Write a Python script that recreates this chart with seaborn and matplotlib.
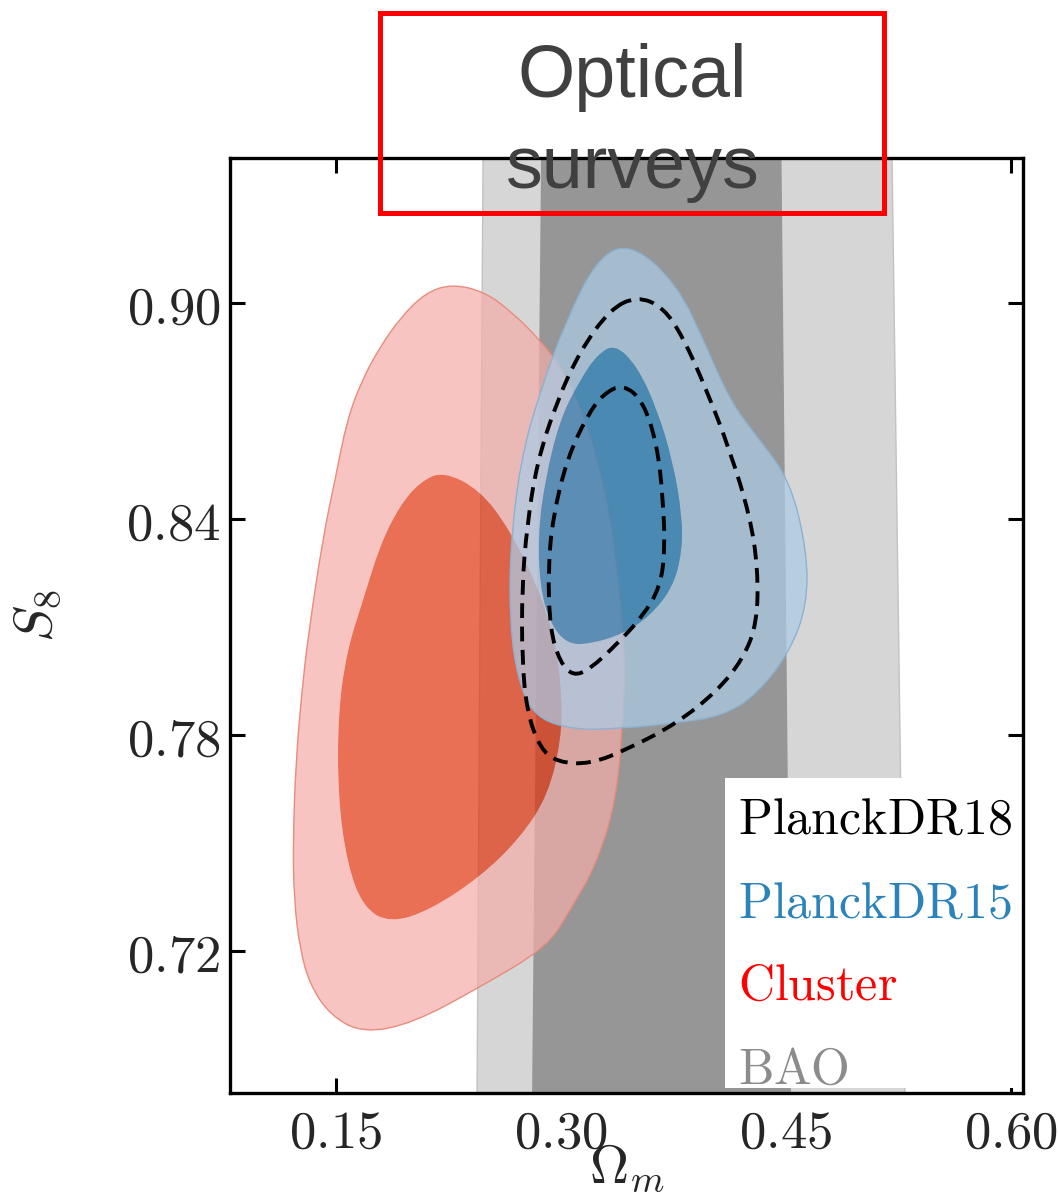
import numpy as np
import pandas as pd
import matplotlib
matplotlib.use("Agg")
import matplotlib.pyplot as plt
import seaborn as sns
from matplotlib.path import Path
from matplotlib.patches import PathPatch, Rectangle

# ---------------- data ----------------
# BAO bands (Omega_m edges at the top and bottom of the plotted S8 range)
bao_y = [0.9403, 0.6806]
bao2_left = [0.2480, 0.2440]
bao2_right = [0.5207, 0.5293]
bao1_left = [0.2867, 0.2807]
bao1_right = [0.4470, 0.4533]

# Cluster contours
cl2_x = [0.2273, 0.2493, 0.2680, 0.2860, 0.3013, 0.3140, 0.3240, 0.3327, 0.3373, 0.3407,
         0.3427, 0.3413, 0.3373, 0.3240, 0.3060, 0.2907, 0.2460, 0.2013, 0.1680, 0.1460,
         0.1327, 0.1260, 0.1220, 0.1213, 0.1233, 0.1273, 0.1313, 0.1413, 0.1493, 0.1573,
         0.1673, 0.1793, 0.1927, 0.2093]
cl2_y = [0.9053, 0.9031, 0.8972, 0.8897, 0.8814, 0.8703, 0.8572, 0.8411, 0.8258, 0.8119,
         0.7981, 0.7861, 0.7628, 0.7444, 0.7314, 0.7211, 0.7100, 0.7000, 0.6972, 0.7022,
         0.7106, 0.7203, 0.7342, 0.7508, 0.7731, 0.7925, 0.8072, 0.8350, 0.8508, 0.8675,
         0.8786, 0.8878, 0.8958, 0.9028]
cl1_x = [0.2213, 0.2460, 0.2660, 0.2840, 0.2960, 0.3007, 0.3000, 0.2913, 0.2727, 0.2460,
         0.2127, 0.1860, 0.1680, 0.1573, 0.1513, 0.1513, 0.1573, 0.1680, 0.1793, 0.1927,
         0.2060]
cl1_y = [0.8533, 0.8481, 0.8369, 0.8217, 0.8064, 0.7911, 0.7786, 0.7633, 0.7514, 0.7406,
         0.7314, 0.7278, 0.7322, 0.7444, 0.7628, 0.7861, 0.8036, 0.8175, 0.8328, 0.8439,
         0.8503]

# PlanckDR15 contours
p15_2_x = [0.3460, 0.3773, 0.3973, 0.4127, 0.4307, 0.4527, 0.4640, 0.4640, 0.4527, 0.4307,
           0.4080, 0.3747, 0.3413, 0.3080, 0.2813, 0.2707, 0.2660, 0.2660, 0.2727, 0.2860,
           0.3040, 0.3240]
p15_2_y = [0.9168, 0.9054, 0.8875, 0.8728, 0.8628, 0.8508, 0.8311, 0.8161, 0.8033, 0.7914,
           0.7853, 0.7833, 0.7819, 0.7814, 0.7853, 0.7964, 0.8111, 0.8311, 0.8558, 0.8756,
           0.8956, 0.9123]
p15_1_x = [0.3360, 0.3507, 0.3640, 0.3747, 0.3807, 0.3807, 0.3747, 0.3593, 0.3413, 0.3193,
           0.3040, 0.2927, 0.2860, 0.2847, 0.2893, 0.2993, 0.3127, 0.3240]
p15_1_y = [0.8886, 0.8825, 0.8706, 0.8558, 0.8408, 0.8311, 0.8211, 0.8131, 0.8081, 0.8053,
           0.8053, 0.8111, 0.8211, 0.8358, 0.8508, 0.8678, 0.8786, 0.8856]

# PlanckDR18 contours (dashed)
p18_2_x = [0.3507, 0.3680, 0.3813, 0.3973, 0.4127, 0.4260, 0.4313, 0.4307, 0.4213, 0.4040,
           0.3773, 0.3460, 0.3193, 0.2973, 0.2860, 0.2773, 0.2740, 0.2740, 0.2773, 0.2840,
           0.2973, 0.3127, 0.3327]
p18_2_y = [0.9019, 0.8989, 0.8906, 0.8756, 0.8589, 0.8408, 0.8261, 0.8111, 0.8011, 0.7922,
           0.7833, 0.7764, 0.7719, 0.7725, 0.7764, 0.7864, 0.8011, 0.8211, 0.8381, 0.8558,
           0.8728, 0.8867, 0.8983]
p18_1_x = [0.3413, 0.3547, 0.3640, 0.3680, 0.3693, 0.3660, 0.3547, 0.3373, 0.3193, 0.3080,
           0.2993, 0.2927, 0.2913, 0.2947, 0.3040, 0.3173, 0.3280]
p18_1_y = [0.8775, 0.8728, 0.8608, 0.8458, 0.8311, 0.8211, 0.8131, 0.8053, 0.7983, 0.7964,
           0.8003, 0.8092, 0.8261, 0.8408, 0.8567, 0.8686, 0.8747]

legend_labels = ["PlanckDR18", "PlanckDR15", "Cluster", "BAO"]
legend_colors = ["#000000", "#2b83ba", "#ff0000", "#8c8c8c"]

xticks = [0.15, 0.30, 0.45, 0.60]
xtick_labels = ["0.15", "0.30", "0.45", "0.60"]
yticks = [0.72, 0.78, 0.84, 0.90]
ytick_labels = ["0.72", "0.78", "0.84", "0.90"]

title_lines = ["Optical", "surveys"]

# ---------------- style ----------------
sns.set_style("ticks")
plt.rcParams["mathtext.fontset"] = "cm"
plt.rcParams["font.family"] = ["DejaVu Sans"]

fig = plt.figure(figsize=(10.58, 11.94), dpi=100)
ax = fig.add_axes([0.2174, 0.0846, 0.7495, 0.7831])


def _signed_area(x, y):
    return 0.5 * np.sum(x * np.roll(y, -1) - np.roll(x, -1) * y)


def _smooth_loop(x, y, ccw=True):
    """Closed outline through the read points, drawn as quadratic Bezier segments."""
    x = np.asarray(x, float)
    y = np.asarray(y, float)
    if (_signed_area(x, y) > 0) != ccw:
        x, y = x[::-1], y[::-1]
    P = np.column_stack([x, y])
    mids = 0.5 * (P + np.roll(P, -1, axis=0))
    verts = [mids[-1]]
    codes = [Path.MOVETO]
    for i in range(len(P)):
        verts += [P[i], mids[i]]
        codes += [Path.CURVE3, Path.CURVE3]
    verts.append(mids[-1])
    codes.append(Path.CLOSEPOLY)
    return np.array(verts), codes


def filled_contours(ox, oy, ix, iy, outer_col, inner_col, edge_col, alpha, z):
    vo, co = _smooth_loop(ox, oy, True)
    vi, ci = _smooth_loop(ix, iy, False)
    ring = Path(np.vstack([vo, vi]), co + ci)
    ax.add_patch(PathPatch(ring, facecolor=outer_col, edgecolor="none", alpha=alpha, zorder=z))
    vi2, ci2 = _smooth_loop(ix, iy, True)
    ax.add_patch(PathPatch(Path(vi2, ci2), facecolor=inner_col, edgecolor="none", alpha=alpha, zorder=z))
    ax.add_patch(PathPatch(Path(vo, co), facecolor="none", edgecolor=edge_col, lw=1.0, zorder=z + 0.1))


# BAO bands
ax.fill_betweenx(bao_y, bao2_left, bao2_right, facecolor="#d6d6d6", edgecolor="none", lw=0, zorder=1)
for edge in (bao2_left, bao2_right):
    sns.lineplot(x=edge, y=bao_y, sort=False, estimator=None, color="#c2c2c2", lw=1.0,
                 ax=ax, zorder=1.05, legend=False)
ax.fill_betweenx(bao_y, bao1_left, bao1_right, facecolor="#969696", edgecolor="none", lw=0, zorder=1.1)

# Cluster and PlanckDR15
filled_contours(cl2_x, cl2_y, cl1_x, cl1_y, "#f4aea9", "#e13713", "#e98c7c", 0.72, 2)
filled_contours(p15_2_x, p15_2_y, p15_1_x, p15_1_y, "#accce6", "#2c84bd", "#8cb2d2", 0.72, 3)

# PlanckDR18 dashed
for xs, ys in [(p18_2_x, p18_2_y), (p18_1_x, p18_1_y)]:
    v, c = _smooth_loop(xs, ys, True)
    ax.add_patch(PathPatch(Path(v, c), facecolor="none", edgecolor="k", lw=2.8,
                           linestyle=(0, (3.8, 2.2)), zorder=4))

# Axes
ax.set_xlim(0.0793, 0.608)
ax.set_ylim(0.6806, 0.9403)
ax.set_xticks(xticks)
ax.set_xticklabels([f"${t}$" for t in xtick_labels])
ax.set_yticks(yticks)
ax.set_yticklabels([f"${t}$" for t in ytick_labels])
ax.tick_params(direction="in", length=11, width=2.2, top=True, right=True,
               labelsize=38, color="k")
ax.tick_params(axis="x", pad=10)
ax.tick_params(axis="y", pad=7)
for s in ax.spines.values():
    s.set_linewidth(2.4)
    s.set_color("k")
    s.set_zorder(10)

ax.set_xlabel(r"$\Omega_m$", fontsize=39)
ax.set_ylabel(r"$S_8$", fontsize=39)
ax.xaxis.set_label_coords(0.5, -0.052)
ax.yaxis.set_label_coords(-0.212, 0.51)

# Legend-like text box
ax.add_patch(Rectangle((0.6242, 0.0054), 0.3758, 0.3315, transform=ax.transAxes,
                       facecolor="white", edgecolor="none", zorder=6))
base_y = [0.277, 0.188, 0.0995, 0.0096]
for lab, col, yy in zip(legend_labels, legend_colors, base_y):
    ax.text(0.6406, yy, r"$\mathrm{" + lab + "}$", color=col, fontsize=36,
            transform=ax.transAxes, ha="left", va="baseline", zorder=7)

# Title box
fig.patches.append(Rectangle((0.3587, 0.8220), 0.8360 - 0.3587, 0.98953 - 0.8220,
                             transform=fig.transFigure, fill=False, edgecolor="#ff0000",
                             lw=3.6, zorder=20, figure=fig))
fig.text(0.598, 1 - 97 / 1194, title_lines[0], ha="center", va="baseline", fontsize=53,
         color="#404040", family=["Liberation Sans", "DejaVu Sans"], zorder=21)
fig.text(0.598, 1 - 188 / 1194, title_lines[1], ha="center", va="baseline", fontsize=53,
         color="#404040", family=["Liberation Sans", "DejaVu Sans"], zorder=21)

fig.savefig("out.png", dpi=100)
